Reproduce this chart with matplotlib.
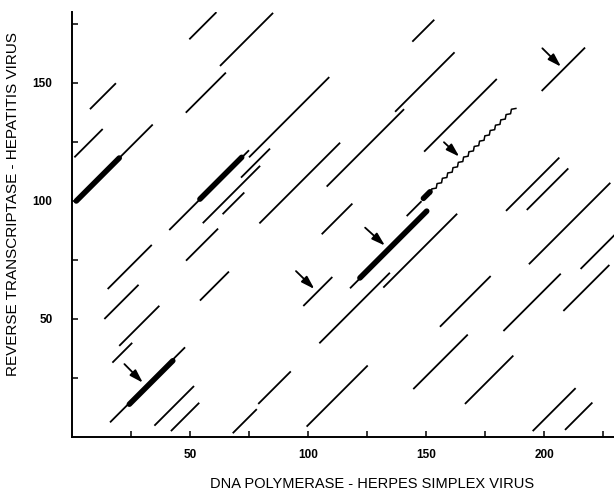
import numpy as np
import matplotlib
matplotlib.use("Agg")
import matplotlib.pyplot as plt

plt.rcParams['font.family'] = ['Liberation Sans', 'DejaVu Sans']

# diagonal matches: start x, start y, length (slope 1)
seg_x = [49.7, 62.7, 7.6, 48.2, 1.0, 1.8, 41.2, 75.0, 71.6, 55.4, 63.8, 79.4,
         107.9, 136.9, 144.2, 149.2, 105.8, 199.0, 183.9, 192.7, 193.6, 215.5,
         155.9, 182.8, 208.2, 166.5, 195.2, 208.9, 144.6, 99.4, 78.9, 68.1,
         104.8, 131.9, 98.0, 117.8, 141.8, 15.1, 48.3, 13.7, 54.2, 20.0, 17.1,
         16.1, 34.9, 41.9]
seg_y = [168.5, 157.2, 138.9, 137.4, 118.5, 100.0, 87.7, 118.5, 109.9, 90.6, 94.4, 90.5,
         106.1, 137.8, 167.5, 120.9, 85.9, 146.6, 95.8, 96.2, 73.2, 71.2,
         46.7, 44.9, 53.4, 14.0, 2.5, 3.0, 20.3, 4.4, 14.0, 1.6,
         39.7, 63.3, 55.5, 63.0, 93.6, 62.7, 74.7, 50.0, 57.8, 38.6, 31.5,
         6.2, 4.8, 2.5]
seg_len = [11.5, 22.5, 11.0, 17.0, 12.0, 32.4, 33.8, 34.0, 12.3, 24.3, 9.2, 34.2,
           32.8, 25.2, 9.3, 30.8, 13.0, 18.4, 22.6, 17.6, 34.5, 14.5,
           21.5, 24.3, 19.5, 20.5, 18.2, 11.6, 23.1, 25.9, 13.8, 10.2,
           29.9, 31.3, 12.3, 32.5, 6.3, 18.7, 13.6, 14.5, 12.3, 17.0, 8.4,
           31.8, 16.8, 12.0]

# strong matches drawn bold
bold_x = [1.8, 54.2, 122.0, 148.9, 24.3]
bold_y = [100.0, 100.8, 67.4, 101.1, 13.9]
bold_len = [18.2, 17.7, 28.3, 2.8, 18.4]

# wavy segment
wavy_start = (151.7, 103.6)
wavy_len = 36.0

# arrows: tail -> tip
arrow_tail = [(199.3, 164.7), (157.6, 124.9), (124.2, 88.7), (94.9, 70.3), (22.2, 30.9)]
arrow_tip = [(207.2, 156.9), (164.1, 118.8), (132.6, 81.1), (102.7, 62.7), (30.0, 23.0)]

fig = plt.figure(figsize=(6.14, 4.93), dpi=100)
ax = fig.add_axes([0.1173, 0.1136, 0.884, 0.8617])

for x, y, l in zip(seg_x, seg_y, seg_len):
    ax.plot([x, x + l], [y, y + l], color='black', lw=1.3, solid_capstyle='butt')

for x, y, l in zip(bold_x, bold_y, bold_len):
    ax.plot([x, x + l], [y, y + l], color='black', lw=4.0, solid_capstyle='round')

# zigzag drawn along the diagonal
x0, y0 = wavy_start
n_teeth = 16
t = np.linspace(0, 1, n_teeth * 2 + 1)
off = np.where(np.arange(len(t)) % 2 == 0, -0.55, 0.55)
wx = x0 + t * wavy_len - off * 0.7071
wy = y0 + t * wavy_len + off * 0.7071
ax.plot(wx, wy, color='black', lw=1.1)

for tail, tip in zip(arrow_tail, arrow_tip):
    ax.annotate('', xy=tip, xytext=tail,
                arrowprops=dict(arrowstyle='-|>,head_length=0.8,head_width=0.25',
                                color='black', lw=1.3, shrinkA=0, shrinkB=0))

ax.set_xlim(0, 230)
ax.set_ylim(0, 180)
ax.spines['top'].set_visible(False)
ax.spines['right'].set_visible(False)
ax.spines['left'].set_linewidth(1.4)
ax.spines['bottom'].set_linewidth(1.4)

ax.set_xticks([50, 100, 150, 200])
ax.set_xticks([25, 75, 125, 175, 225], minor=True)
ax.set_yticks([50, 100, 150])
ax.set_yticks([25, 75, 125, 175], minor=True)
ax.tick_params(which='both', direction='in', length=4, width=1.1)
ax.tick_params(axis='x', which='major', pad=9, labelsize=8.5)
ax.tick_params(axis='y', which='major', pad=14, labelsize=8.5)
for lab in ax.get_xticklabels() + ax.get_yticklabels():
    lab.set_fontweight('bold')

ax.set_xlabel('DNA POLYMERASE - HERPES SIMPLEX VIRUS', fontsize=10.5)
ax.set_ylabel('REVERSE TRANSCRIPTASE - HEPATITIS VIRUS', fontsize=11)
ax.xaxis.set_label_coords(0.553, -0.095)
ax.yaxis.set_label_coords(-0.096, 0.548)

fig.savefig('out.png', dpi=100)
